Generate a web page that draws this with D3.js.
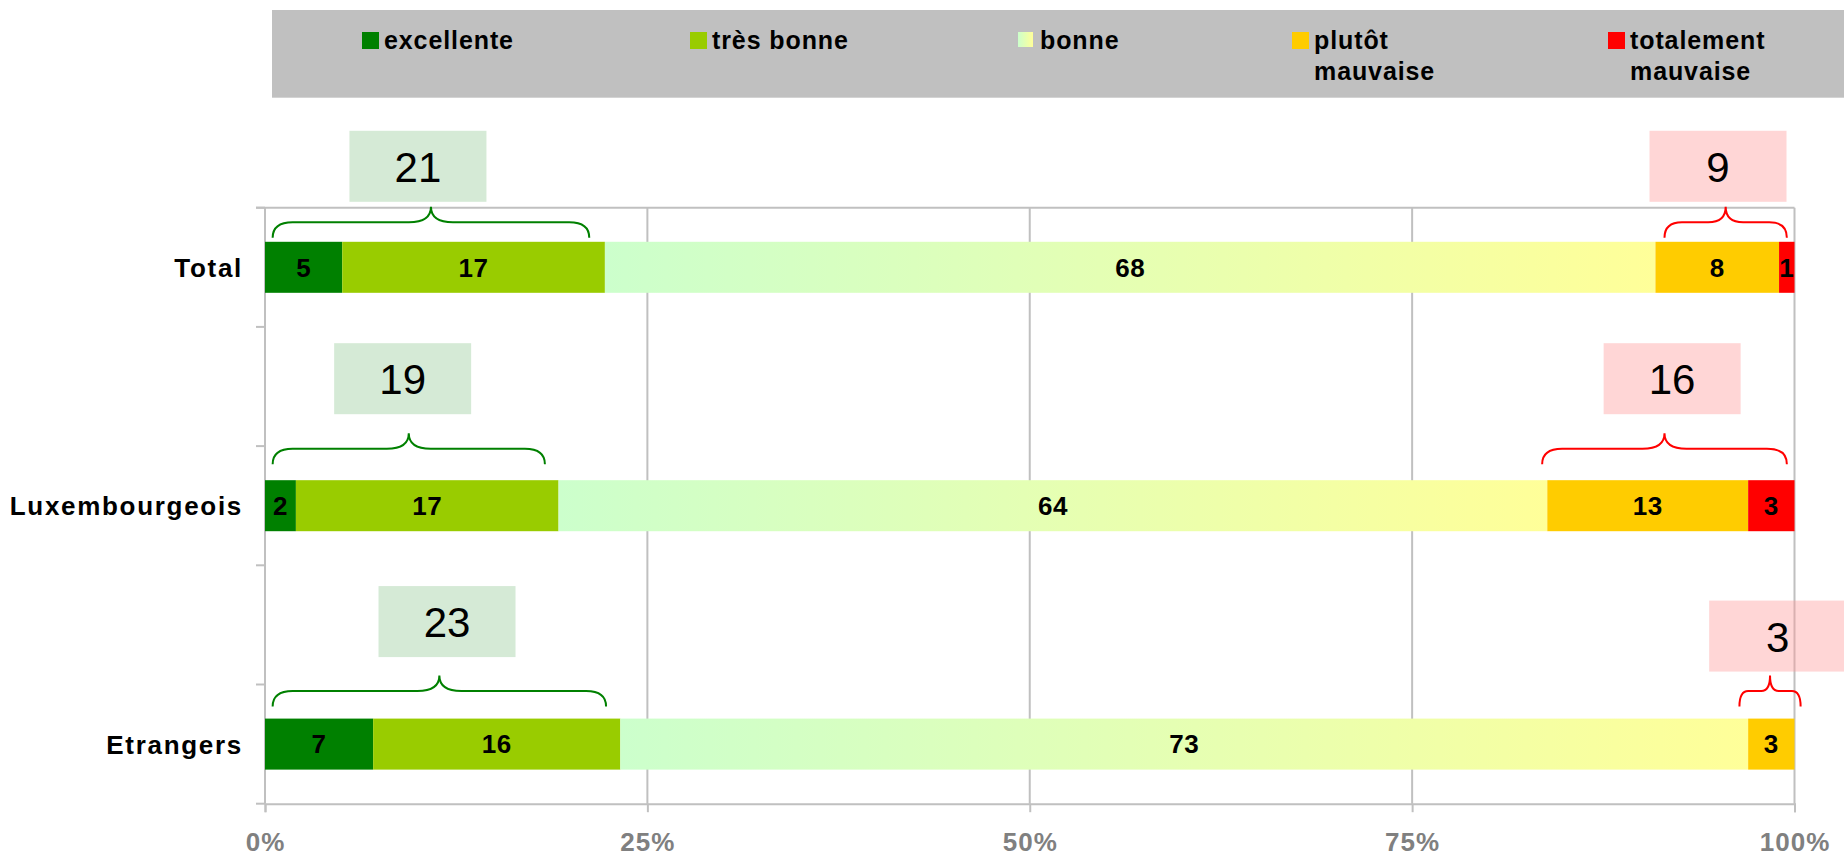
<!DOCTYPE html>
<html>
<head>
<meta charset="utf-8">
<script src="https://cdn.jsdelivr.net/npm/d3@7"></script>
<style>
  body { margin: 0; background: #fff; }
  svg { display: block; font-family: "Liberation Sans", Arial, sans-serif; }
</style>
</head>
<body>
<svg width="1844" height="857"></svg>
<script>
// data
const categories = ["Total", "Luxembourgeois", "Etrangers"];
const seriesNames = ["excellente", "très bonne", "bonne", "plutôt mauvaise", "totalement mauvaise"];
const excellente = [5, 2, 7];
const tresBonne = [17, 17, 16];
const bonne = [68, 64, 73];
const plutotMauvaise = [8, 13, 3];
const totalementMauvaise = [1, 3, 0];
const xTicks = [0, 25, 50, 75, 100];

// annotations (percent of the bar)
const goodTotals = [21, 19, 23];
const badTotals = [9, 16, 3];
const goodBraces = [[0.5, 21.2], [0.5, 18.3], [0.5, 22.3]];
const badBraces = [[91.5, 99.5], [83.5, 99.5], [96.4, 100.4]];
const goodBoxAt = [10.0, 9.0, 11.9];
const badBoxAt = [95.0, 92.0, 98.9];

const colors = ["#008000", "#99cc00", "url(#bonneGrad)", "#ffcc00", "#ff0000"];
const legendX = [362, 690, 1018, 1292, 1608];

// layout, px above the bar top
const braceLift = [35, 47, 43];
const goodBoxLift = [111, 137, 132.5];
const badBoxLift = [111, 137, 118];

const svg = d3.select("svg");
const font = "'Liberation Sans', Arial, sans-serif";

const defs = svg.append("defs");
const grad = defs.append("linearGradient").attr("id", "bonneGrad")
    .attr("x1", 0).attr("x2", 1).attr("y1", 0).attr("y2", 0);
grad.append("stop").attr("offset", "0%").attr("stop-color", "#ccffcc");
grad.append("stop").attr("offset", "100%").attr("stop-color", "#ffff99");

const rows = categories.map((c, i) => ({
  cat: c,
  "excellente": excellente[i],
  "très bonne": tresBonne[i],
  "bonne": bonne[i],
  "plutôt mauvaise": plutotMauvaise[i],
  "totalement mauvaise": totalementMauvaise[i]
}));

const stacked = d3.stack().keys(seriesNames).offset(d3.stackOffsetExpand)(rows);

// slots: a blank row between each category
const slots = [];
categories.forEach((c, i) => { if (i) slots.push("gap" + i); slots.push(c); });

const x = d3.scaleLinear().domain([0, 100]).range([265, 1794.5]);
const y = d3.scaleBand().domain(slots).range([207.7, 803.7])
    .paddingInner(0.572).paddingOuter(0.286);

const gridColor = "#c0c0c0";

// legend
svg.append("rect").attr("x", 272).attr("y", 10).attr("width", 1572).attr("height", 87.7)
    .attr("fill", "#c0c0c0");
const leg = svg.append("g").selectAll("g").data(seriesNames).join("g")
    .attr("transform", (d, i) => "translate(" + legendX[i] + ",0)");
leg.append("rect")
    .attr("y", 32)
    .attr("width", (d, i) => i === 2 ? 15 : 17)
    .attr("height", (d, i) => i === 2 ? 15 : 17)
    .attr("fill", (d, i) => colors[i]);
leg.append("text")
    .attr("x", 22).attr("y", 48.5)
    .attr("font-size", 25).attr("font-weight", "bold").attr("letter-spacing", 0.9)
    .attr("fill", "#000")
    .selectAll("tspan").data(d => d.endsWith("mauvaise") ? d.split(" ") : [d]).join("tspan")
    .attr("x", 22).attr("dy", (d, i) => i ? 31.5 : 0)
    .text(d => d);

// grid + axes
const plot = svg.append("g");
plot.selectAll("line.grid").data(xTicks.slice(1)).join("line")
    .attr("x1", d => x(d)).attr("x2", d => x(d))
    .attr("y1", y.range()[0]).attr("y2", y.range()[1])
    .attr("stroke", gridColor).attr("stroke-width", 2);
// top border
plot.append("line").attr("x1", x(0) - 9).attr("x2", x(100))
    .attr("y1", y.range()[0]).attr("y2", y.range()[0])
    .attr("stroke", gridColor).attr("stroke-width", 2);

const xAxis = plot.append("g")
    .attr("transform", "translate(0," + y.range()[1] + ")")
    .call(d3.axisBottom(x).tickValues(xTicks).tickFormat(d => d + "%").tickSize(8.5).tickPadding(20.5));
xAxis.select(".domain").attr("stroke", gridColor).attr("stroke-width", 2);
xAxis.selectAll(".tick line").attr("stroke", gridColor).attr("stroke-width", 2);
xAxis.selectAll(".tick text")
    .attr("font-family", font).attr("font-size", 26).attr("font-weight", "bold")
    .attr("letter-spacing", 1).attr("fill", "#808080");

// left axis with ticks on slot boundaries
const yBounds = d3.range(slots.length + 1).map(i => y.range()[0] + i * y.step());
plot.append("line").attr("x1", x(0)).attr("x2", x(0))
    .attr("y1", y.range()[0]).attr("y2", y.range()[1])
    .attr("stroke", gridColor).attr("stroke-width", 2);
plot.selectAll("line.ytick").data(yBounds).join("line")
    .attr("x1", x(0) - 9).attr("x2", x(0))
    .attr("y1", d => d).attr("y2", d => d)
    .attr("stroke", gridColor).attr("stroke-width", 2);

// bars
const layer = svg.append("g").selectAll("g").data(stacked).join("g")
    .attr("fill", (d, i) => colors[i]);
layer.selectAll("rect").data(d => d).join("rect")
    .attr("x", d => x(d[0] * 100))
    .attr("width", d => x(d[1] * 100) - x(d[0] * 100))
    .attr("y", d => y(d.data.cat))
    .attr("height", y.bandwidth());

layer.selectAll("text").data(d => d.map(v => Object.assign(v, { key: d.key }))).join("text")
    .filter(d => d.data[d.key] > 0)
    .attr("x", d => x((d[0] + d[1]) * 50))
    .attr("y", d => y(d.data.cat) + y.bandwidth() / 2)
    .attr("dy", "0.36em")
    .attr("text-anchor", "middle")
    .attr("font-size", 26).attr("font-weight", "bold").attr("letter-spacing", 0.5)
    .attr("fill", "#000")
    .text(d => d.data[d.key]);

// category labels
svg.append("g").selectAll("text").data(categories).join("text")
    .attr("x", 243)
    .attr("y", d => y(d) + y.bandwidth() / 2)
    .attr("dy", "0.37em")
    .attr("text-anchor", "end")
    .attr("font-size", 26).attr("font-weight", "bold").attr("letter-spacing", 1.7)
    .attr("fill", "#000")
    .text(d => d);

// braces + boxes
function brace(x0, x1, yTip, h) {
  const w = x1 - x0, r = Math.min(20, w / 7), c = Math.min(22, w / 7);
  const xm = (x0 + x1) / 2, yl = yTip + 15.5, ye = yTip + h;
  return "M" + x0 + "," + ye + " Q" + x0 + "," + yl + " " + (x0 + r) + "," + yl +
    " L" + (xm - c) + "," + yl + " Q" + xm + "," + yl + " " + xm + "," + yTip +
    " Q" + xm + "," + yl + " " + (xm + c) + "," + yl +
    " L" + (x1 - r) + "," + yl + " Q" + x1 + "," + yl + " " + x1 + "," + ye;
}

const notes = svg.append("g");
categories.forEach((c, i) => {
  const top = y(c);
  [
    { span: goodBraces[i], at: goodBoxAt[i], val: goodTotals[i], lift: goodBoxLift[i], stroke: "#008000", fill: "#d5ead6", op: 1 },
    { span: badBraces[i], at: badBoxAt[i], val: badTotals[i], lift: badBoxLift[i], stroke: "#ff0000", fill: "#ff9999", op: 0.4 }
  ].forEach(n => {
    notes.append("path")
        .attr("d", brace(x(n.span[0]), x(n.span[1]), top - braceLift[i], 31))
        .attr("fill", "none").attr("stroke", n.stroke).attr("stroke-width", 2);
    notes.append("rect")
        .attr("x", x(n.at) - 68.5).attr("y", top - n.lift)
        .attr("width", 137).attr("height", 71)
        .attr("fill", n.fill).attr("fill-opacity", n.op);
    notes.append("text")
        .attr("x", x(n.at)).attr("y", top - n.lift + 35.5)
        .attr("dy", "0.37em").attr("text-anchor", "middle")
        .attr("font-size", 42).attr("fill", "#000")
        .text(n.val);
  });
});
</script>
</body>
</html>
